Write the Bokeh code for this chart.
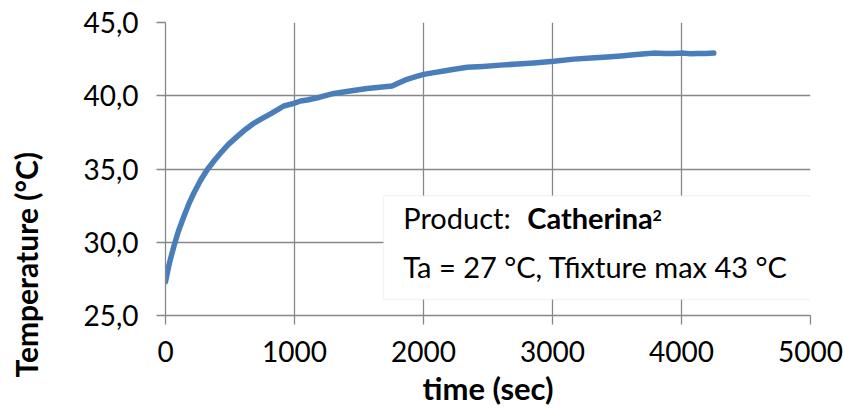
from bokeh.plotting import figure
from bokeh.models import Range1d, FixedTicker, BoxAnnotation, Label, Title
from bokeh.embed import file_html
from bokeh.resources import INLINE

# ---- data ----
time_sec = [0, 26, 39, 65, 100, 143, 180, 220, 270, 323, 380, 426, 490, 555,
            620, 684, 750, 814, 870, 917, 995, 1047, 1098, 1196, 1305, 1430,
            1563, 1680, 1757, 1815, 1873, 1940, 2002, 2080, 2158, 2250, 2339,
            2460, 2597, 2730, 2855, 3010, 3165, 3300, 3424, 3530, 3630, 3720,
            3785, 3870, 3940, 4018, 4070, 4121, 4190, 4250]
temp_c = [27.3, 28.4, 28.86, 29.73, 30.75, 31.77, 32.6, 33.36, 34.2, 34.95,
          35.6, 36.08, 36.7, 37.21, 37.7, 38.12, 38.45, 38.76, 39.05, 39.3,
          39.48, 39.64, 39.71, 39.9, 40.16, 40.32, 40.5, 40.6, 40.66, 40.9,
          41.12, 41.3, 41.46, 41.58, 41.69, 41.82, 41.94, 42.0, 42.09, 42.17,
          42.24, 42.35, 42.5, 42.57, 42.64, 42.72, 42.8, 42.86, 42.91, 42.88,
          42.89, 42.91, 42.86, 42.89, 42.88, 42.91]

x_ticks = [0, 1000, 2000, 3000, 4000, 5000]
y_ticks = [25, 30, 35, 40, 45]
y_tick_labels = ["25,0", "30,0", "35,0", "40,0", "45,0"]

x_title = "time (sec)"
y_title = "Temperature (°C)"
box_line1_normal = "Product:"
box_line1_bold = "Catherina"
box_line1_sup = "2"
box_line2 = "Ta = 27 °C, Tfixture max 43 °C"

FONT = "Lato"
GRID = "#878787"

p = figure(width=843, height=409, output_backend="svg", toolbar_location=None,
           x_range=Range1d(0, 5000), y_range=Range1d(25, 45),
           min_border_left=165, min_border_right=33,
           min_border_top=22, min_border_bottom=93)
p.outline_line_color = None
p.background_fill_color = "white"
p.border_fill_color = "white"

# axes
p.xaxis.ticker = FixedTicker(ticks=x_ticks)
p.yaxis.ticker = FixedTicker(ticks=y_ticks)
p.yaxis.major_label_overrides = {t: l for t, l in zip(y_ticks, y_tick_labels)}
for ax in (p.xaxis[0], p.yaxis[0]):
    ax.axis_line_color = GRID
    ax.axis_line_width = 1.3
    ax.major_tick_line_color = GRID
    ax.major_tick_line_width = 1.3
    ax.major_tick_in = 0
    ax.major_tick_out = 9
    ax.minor_tick_line_color = None
    ax.major_label_text_font = FONT
    ax.major_label_text_font_size = "28px"
    ax.major_label_text_color = "black"
    ax.axis_label_text_font = FONT
    ax.axis_label_text_font_style = "bold"
    ax.axis_label_text_color = "black"

p.xaxis.major_label_standoff = 16
p.yaxis.major_label_standoff = 18
p.xaxis.axis_label = x_title
p.xaxis.axis_label_text_font_size = "31px"
p.xaxis.axis_label_standoff = 4

p.xgrid.ticker = FixedTicker(ticks=x_ticks)
p.ygrid.ticker = FixedTicker(ticks=y_ticks)
p.grid.grid_line_color = GRID
p.grid.grid_line_width = 1.3

p.line(time_sec, temp_c, line_color="#4A7EBB", line_width=5.5,
       line_cap="round", line_join="round")

# spacer between the y tick labels and the y title
p.add_layout(Title(text=" ", text_font_size="1px", standoff=32), "left")
# y-axis title (shifted downwards like the reference)
p.add_layout(Title(text=y_title, align="left", offset=-62, standoff=4,
                   vertical_align="bottom", text_font=FONT,
                   text_font_size="30px", text_font_style="bold",
                   text_color="black"), "left")

# annotation box
box = BoxAnnotation(left=1690, right=5023, bottom=26.09, top=33.17,
                    fill_color="white", fill_alpha=1.0,
                    line_color="#D9D9D9", line_width=1.5)
p.add_layout(box)

p.add_layout(Label(x=1843, y=31.68, text=box_line1_normal, text_font=FONT,
                   text_font_size="29px", text_color="black",
                   text_baseline="alphabetic"))
p.add_layout(Label(x=2804, y=31.68, text=box_line1_bold, text_font=FONT,
                   text_font_size="29px", text_font_style="bold",
                   text_color="black", text_baseline="alphabetic"))
p.add_layout(Label(x=3775, y=31.83, text=box_line1_sup, text_font=FONT,
                   text_font_size="16px", text_font_style="bold",
                   text_color="black", text_baseline="alphabetic"))
p.add_layout(Label(x=1843, y=28.35, text=box_line2, text_font=FONT,
                   text_font_size="29px", text_color="black",
                   text_baseline="alphabetic"))

open("out.html", "w").write(file_html(p, INLINE))
